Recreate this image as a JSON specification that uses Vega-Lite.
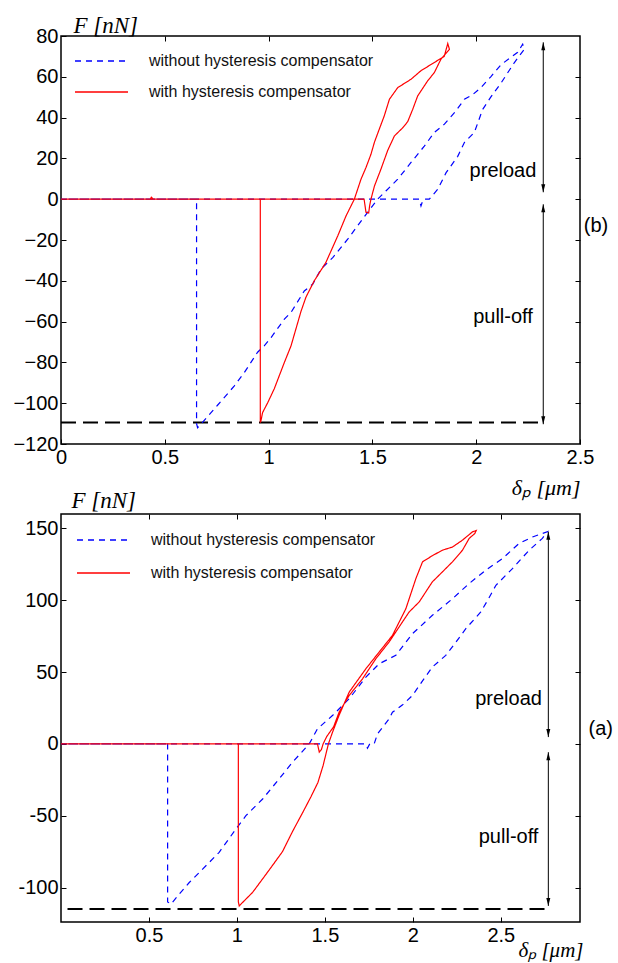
{
  "$schema": "https://vega.github.io/schema/vega-lite/v6.json",
  "background": "white",
  "padding": {"left": 12, "top": 13, "right": 5, "bottom": 5},
  "bounds": "flush",
  "spacing": 70,
  "datasets": {
    "topBlue": [
      {"i":0,"x":0,"y":0},{"i":1,"x":0.4,"y":0},{"i":2,"x":1.0,"y":0},{"i":3,"x":1.5,"y":0},{"i":4,"x":1.725,"y":0},
      {"i":5,"x":1.734,"y":-3.3},{"i":6,"x":1.745,"y":0},{"i":7,"x":1.774,"y":0},{"i":8,"x":1.815,"y":4.9},{"i":9,"x":1.855,"y":13},
      {"i":10,"x":1.911,"y":21},{"i":11,"x":1.943,"y":27.8},{"i":12,"x":1.991,"y":32.7},{"i":13,"x":2.031,"y":44},{"i":14,"x":2.07,"y":50},
      {"i":15,"x":2.12,"y":57},{"i":16,"x":2.184,"y":67},{"i":17,"x":2.232,"y":73.5},{"i":18,"x":2.224,"y":76},{"i":19,"x":2.2,"y":72},
      {"i":20,"x":2.16,"y":69},{"i":21,"x":2.12,"y":66},{"i":22,"x":2.07,"y":60},{"i":23,"x":2.023,"y":54.7},{"i":24,"x":1.98,"y":51},
      {"i":25,"x":1.943,"y":49},{"i":26,"x":1.9,"y":43},{"i":27,"x":1.847,"y":36.8},{"i":28,"x":1.798,"y":32.7},{"i":29,"x":1.75,"y":26},
      {"i":30,"x":1.686,"y":18},{"i":31,"x":1.622,"y":9.8},{"i":32,"x":1.565,"y":4},{"i":33,"x":1.525,"y":0},{"i":34,"x":1.48,"y":-6},
      {"i":35,"x":1.429,"y":-13},{"i":36,"x":1.381,"y":-19.6},{"i":37,"x":1.31,"y":-28.5},{"i":38,"x":1.252,"y":-34.3},{"i":39,"x":1.212,"y":-41.7},
      {"i":40,"x":1.172,"y":-45},{"i":41,"x":1.108,"y":-55.5},{"i":42,"x":1.076,"y":-58.8},{"i":43,"x":1.012,"y":-67.8},{"i":44,"x":0.979,"y":-71.9},
      {"i":45,"x":0.947,"y":-75},{"i":46,"x":0.883,"y":-85},{"i":47,"x":0.835,"y":-91.5},{"i":48,"x":0.754,"y":-101},{"i":49,"x":0.674,"y":-110.3},
      {"i":50,"x":0.658,"y":-112},{"i":51,"x":0.653,"y":-110},{"i":52,"x":0.653,"y":0},{"i":53,"x":0.3,"y":0},{"i":54,"x":0,"y":0}
    ],
    "topRed": [
      {"i":0,"x":0,"y":0},{"i":1,"x":0.43,"y":0},{"i":2,"x":0.435,"y":1},{"i":3,"x":0.445,"y":0},{"i":4,"x":1.0,"y":0},
      {"i":5,"x":1.46,"y":0},{"i":6,"x":1.469,"y":-6.4},{"i":7,"x":1.482,"y":-6.8},{"i":8,"x":1.487,"y":-3},{"i":9,"x":1.493,"y":0},
      {"i":10,"x":1.51,"y":6.5},{"i":11,"x":1.541,"y":14.7},{"i":12,"x":1.574,"y":24},{"i":13,"x":1.606,"y":31},{"i":14,"x":1.646,"y":35},
      {"i":15,"x":1.67,"y":38},{"i":16,"x":1.694,"y":44},{"i":17,"x":1.718,"y":50.6},{"i":18,"x":1.766,"y":58},{"i":19,"x":1.798,"y":62},
      {"i":20,"x":1.83,"y":68.6},{"i":21,"x":1.871,"y":73.5},{"i":22,"x":1.863,"y":76.3},{"i":23,"x":1.846,"y":70},{"i":24,"x":1.798,"y":67},
      {"i":25,"x":1.734,"y":63},{"i":26,"x":1.686,"y":58.8},{"i":27,"x":1.622,"y":54.7},{"i":28,"x":1.582,"y":49},{"i":29,"x":1.557,"y":40.8},
      {"i":30,"x":1.533,"y":34.3},{"i":31,"x":1.51,"y":28},{"i":32,"x":1.493,"y":22},{"i":33,"x":1.469,"y":15.5},{"i":34,"x":1.445,"y":9.8},
      {"i":35,"x":1.413,"y":0},{"i":36,"x":1.373,"y":-8.2},{"i":37,"x":1.333,"y":-18},{"i":38,"x":1.276,"y":-31},{"i":39,"x":1.22,"y":-40},
      {"i":40,"x":1.18,"y":-48},{"i":41,"x":1.156,"y":-55},{"i":42,"x":1.108,"y":-71.9},{"i":43,"x":1.076,"y":-80},{"i":44,"x":1.027,"y":-93},
      {"i":45,"x":0.996,"y":-99.7},{"i":46,"x":0.971,"y":-104.6},{"i":47,"x":0.963,"y":-108.7},{"i":48,"x":0.96,"y":-109.5},{"i":49,"x":0.96,"y":0},
      {"i":50,"x":0.5,"y":0},{"i":51,"x":0,"y":0}
    ],
    "botBlue": [
      {"i":0,"x":0,"y":0},{"i":1,"x":0.5,"y":0},{"i":2,"x":1.2,"y":0},{"i":3,"x":1.73,"y":0},{"i":4,"x":1.742,"y":-3},
      {"i":5,"x":1.755,"y":0},{"i":6,"x":1.78,"y":0},{"i":7,"x":1.799,"y":7},{"i":8,"x":1.865,"y":17.4},{"i":9,"x":1.884,"y":22},
      {"i":10,"x":1.94,"y":27},{"i":11,"x":1.998,"y":33.7},{"i":12,"x":2.05,"y":43},{"i":13,"x":2.111,"y":53.5},{"i":14,"x":2.187,"y":61.6},
      {"i":15,"x":2.24,"y":70},{"i":16,"x":2.301,"y":80.2},{"i":17,"x":2.386,"y":91.8},{"i":18,"x":2.43,"y":101},{"i":19,"x":2.472,"y":110.4},
      {"i":20,"x":2.566,"y":122},{"i":21,"x":2.661,"y":134.8},{"i":22,"x":2.736,"y":143},{"i":23,"x":2.765,"y":147.7},{"i":24,"x":2.68,"y":144},
      {"i":25,"x":2.604,"y":139.5},{"i":26,"x":2.509,"y":129},{"i":27,"x":2.415,"y":121},{"i":28,"x":2.32,"y":111.6},{"i":29,"x":2.225,"y":101},
      {"i":30,"x":2.111,"y":89.5},{"i":31,"x":1.998,"y":76.7},{"i":32,"x":1.903,"y":61.6},{"i":33,"x":1.809,"y":55.8},{"i":34,"x":1.733,"y":46.5},
      {"i":35,"x":1.638,"y":31.4},{"i":36,"x":1.543,"y":19.7},{"i":37,"x":1.458,"y":10.5},{"i":38,"x":1.411,"y":0},{"i":39,"x":1.316,"y":-12.8},
      {"i":40,"x":1.24,"y":-24.4},{"i":41,"x":1.146,"y":-38.4},{"i":42,"x":1.051,"y":-50},{"i":43,"x":0.994,"y":-59.3},{"i":44,"x":0.899,"y":-75.5},
      {"i":45,"x":0.805,"y":-87.2},{"i":46,"x":0.729,"y":-96.5},{"i":47,"x":0.672,"y":-104.6},{"i":48,"x":0.625,"y":-111.6},{"i":49,"x":0.606,"y":-110},
      {"i":50,"x":0.606,"y":0},{"i":51,"x":0.3,"y":0},{"i":52,"x":0,"y":0}
    ],
    "botRed": [
      {"i":0,"x":0,"y":0},{"i":1,"x":0.5,"y":0},{"i":2,"x":1.2,"y":0},{"i":3,"x":1.458,"y":0},{"i":4,"x":1.468,"y":-5.8},
      {"i":5,"x":1.48,"y":-4},{"i":6,"x":1.49,"y":0},{"i":7,"x":1.51,"y":5},{"i":8,"x":1.55,"y":12},{"i":9,"x":1.581,"y":22.1},
      {"i":10,"x":1.638,"y":33.7},{"i":11,"x":1.714,"y":45.3},{"i":12,"x":1.79,"y":59.3},{"i":13,"x":1.865,"y":70.9},{"i":14,"x":1.941,"y":84.9},
      {"i":15,"x":1.979,"y":91.8},{"i":16,"x":2.036,"y":98.8},{"i":17,"x":2.111,"y":112.8},{"i":18,"x":2.168,"y":119.7},{"i":19,"x":2.225,"y":126.7},
      {"i":20,"x":2.282,"y":134.8},{"i":21,"x":2.32,"y":143},{"i":22,"x":2.352,"y":146.4},{"i":23,"x":2.36,"y":148.5},{"i":24,"x":2.339,"y":147.6},
      {"i":25,"x":2.282,"y":141.8},{"i":26,"x":2.225,"y":137},{"i":27,"x":2.168,"y":134.8},{"i":28,"x":2.111,"y":131},{"i":29,"x":2.055,"y":126.7},
      {"i":30,"x":2.017,"y":115},{"i":31,"x":1.96,"y":94},{"i":32,"x":1.884,"y":75.5},{"i":33,"x":1.809,"y":64},{"i":34,"x":1.733,"y":52.3},
      {"i":35,"x":1.638,"y":36},{"i":36,"x":1.581,"y":20},{"i":37,"x":1.543,"y":8},{"i":38,"x":1.52,"y":0},{"i":39,"x":1.49,"y":-15},
      {"i":40,"x":1.46,"y":-27},{"i":41,"x":1.42,"y":-37},{"i":42,"x":1.373,"y":-48},{"i":43,"x":1.316,"y":-61},{"i":44,"x":1.259,"y":-75},
      {"i":45,"x":1.2,"y":-85},{"i":46,"x":1.146,"y":-94},{"i":47,"x":1.089,"y":-103.4},{"i":48,"x":1.032,"y":-110.4},{"i":49,"x":1.013,"y":-112.8},
      {"i":50,"x":1.008,"y":-110},{"i":51,"x":1.008,"y":0},{"i":52,"x":0.5,"y":0},{"i":53,"x":0,"y":0}
    ]
  },
  "vconcat": [
    {
      "width": 519,
      "height": 408,
      "resolve": {"axis": {"x": "independent", "y": "independent"}},
      "layer": [
        {
          "data": {"values": [{"x": 0, "y": 0}]},
          "mark": {"type": "point", "opacity": 0},
          "encoding": {
            "x": {"field": "x", "type": "quantitative", "scale": {"domain": [0, 2.5], "nice": false, "zero": false},
                  "axis": {"orient": "top", "values": [0.5, 1, 1.5, 2], "labels": false, "grid": false, "title": null}},
            "y": {"field": "y", "type": "quantitative", "scale": {"domain": [-120, 80], "nice": false, "zero": false},
                  "axis": {"orient": "right", "values": [-100, -80, -60, -40, -20, 0, 20, 40, 60], "labels": false, "grid": false, "title": null}}
          }
        },
        {
          "data": {"values": [{"x": 0, "x2": 2.323, "y": -109.5}]},
          "mark": {"type": "rule", "color": "black", "strokeWidth": 2, "strokeDash": [15, 7]},
          "encoding": {
            "x": {"field": "x", "type": "quantitative", "scale": {"domain": [0, 2.5], "nice": false, "zero": false}, "axis": null},
            "x2": {"field": "x2"},
            "y": {"field": "y", "type": "quantitative", "scale": {"domain": [-120, 80], "nice": false, "zero": false}, "axis": null}
          }
        },
        {
          "data": {"name": "topBlue"},
          "mark": {"type": "line", "strokeWidth": 1.2},
          "encoding": {
            "x": {"field": "x", "type": "quantitative", "scale": {"domain": [0, 2.5], "nice": false, "zero": false},
                  "axis": {"values": [0, 0.5, 1, 1.5, 2, 2.5], "format": "~g", "title": "δₚ [μm]",
                           "titleFont": "Liberation Serif", "titleFontStyle": "italic", "titleFontWeight": "normal", "titleFontSize": 22,
                           "titleAnchor": "end", "titleAlign": "right", "titleBaseline": "alphabetic", "titleX": 519, "titleY": 50}},
            "y": {"field": "y", "type": "quantitative", "scale": {"domain": [-120, 80], "nice": false, "zero": false},
                  "axis": {"values": [-120, -100, -80, -60, -40, -20, 0, 20, 40, 60, 80], "title": "F [nN]",
                           "titleFont": "Liberation Serif", "titleFontStyle": "italic", "titleFontWeight": "normal", "titleFontSize": 23,
                           "titleAngle": 0, "titleAlign": "left", "titleBaseline": "alphabetic", "titleX": 12, "titleY": -4}},
            "order": {"field": "i", "type": "quantitative"},
            "color": {"datum": "without hysteresis compensator", "type": "nominal",
                      "scale": {"domain": ["without hysteresis compensator", "with hysteresis compensator"], "range": ["#0000ff", "#ff0000"]},
                      "legend": {"title": null, "orient": "none", "legendX": 13, "legendY": 15, "rowPadding": 11}},
            "strokeDash": {"datum": "without hysteresis compensator", "type": "nominal",
                      "scale": {"domain": ["without hysteresis compensator", "with hysteresis compensator"], "range": [[6, 5], [1, 0]]},
                      "legend": {"title": null, "orient": "none", "legendX": 13, "legendY": 15, "rowPadding": 11}}
          }
        },
        {
          "data": {"name": "topRed"},
          "mark": {"type": "line", "strokeWidth": 1.2},
          "encoding": {
            "x": {"field": "x", "type": "quantitative", "scale": {"domain": [0, 2.5], "nice": false, "zero": false}, "axis": null},
            "y": {"field": "y", "type": "quantitative", "scale": {"domain": [-120, 80], "nice": false, "zero": false}, "axis": null},
            "order": {"field": "i", "type": "quantitative"},
            "color": {"datum": "with hysteresis compensator", "type": "nominal"},
            "strokeDash": {"datum": "with hysteresis compensator", "type": "nominal"}
          }
        },
        {
          "data": {"values": [{"x": 2.323, "y": 76.9, "y2": 3.4}, {"x": 2.323, "y": -2.5, "y2": -110.3}]},
          "mark": {"type": "rule", "color": "black", "strokeWidth": 1},
          "encoding": {
            "x": {"field": "x", "type": "quantitative", "scale": {"domain": [0, 2.5], "nice": false, "zero": false}, "axis": null},
            "y": {"field": "y", "type": "quantitative", "scale": {"domain": [-120, 80], "nice": false, "zero": false}, "axis": null},
            "y2": {"field": "y2"}
          }
        },
        {
          "data": {"values": [{"x": 2.323, "y": 76.9, "d": "up"}, {"x": 2.323, "y": 3.4, "d": "down"}, {"x": 2.323, "y": -2.5, "d": "up"}, {"x": 2.323, "y": -110.3, "d": "down"}]},
          "mark": {"type": "point", "filled": true, "color": "black", "opacity": 1, "size": 100},
          "encoding": {
            "x": {"field": "x", "type": "quantitative", "scale": {"domain": [0, 2.5], "nice": false, "zero": false}, "axis": null},
            "y": {"field": "y", "type": "quantitative", "scale": {"domain": [-120, 80], "nice": false, "zero": false}, "axis": null},
            "shape": {"field": "d", "type": "nominal", "scale": {"domain": ["up", "down"], "range": ["M0,0L-0.4,1.6L0.4,1.6Z", "M0,0L-0.4,-1.6L0.4,-1.6Z"]}, "legend": null}
          }
        },
        {
          "data": {"values": [{"x": 2.129, "y": 13.7, "t": "preload"}, {"x": 2.129, "y": -57.8, "t": "pull-off"}, {"x": 2.577, "y": -13.2, "t": "(b)"}]},
          "mark": {"type": "text", "font": "Liberation Sans", "fontSize": 20, "color": "black", "align": "center", "baseline": "middle"},
          "encoding": {
            "x": {"field": "x", "type": "quantitative", "scale": {"domain": [0, 2.5], "nice": false, "zero": false}, "axis": null},
            "y": {"field": "y", "type": "quantitative", "scale": {"domain": [-120, 80], "nice": false, "zero": false}, "axis": null},
            "text": {"field": "t"}
          }
        }
      ]
    },
    {
      "width": 519,
      "height": 408,
      "resolve": {"axis": {"x": "independent", "y": "independent"}},
      "layer": [
        {
          "data": {"values": [{"x": 0.5, "y": 0}]},
          "mark": {"type": "point", "opacity": 0},
          "encoding": {
            "x": {"field": "x", "type": "quantitative", "scale": {"domain": [0, 2.95], "nice": false, "zero": false},
                  "axis": {"orient": "top", "values": [0.5, 1, 1.5, 2, 2.5], "labels": false, "grid": false, "title": null}},
            "y": {"field": "y", "type": "quantitative", "scale": {"domain": [-124, 160], "nice": false, "zero": false},
                  "axis": {"orient": "right", "values": [-100, -50, 0, 50, 100, 150], "labels": false, "grid": false, "title": null}}
          }
        },
        {
          "data": {"values": [{"x": 0.037, "x2": 2.77, "y": -115}]},
          "mark": {"type": "rule", "color": "black", "strokeWidth": 2, "strokeDash": [15, 7]},
          "encoding": {
            "x": {"field": "x", "type": "quantitative", "scale": {"domain": [0, 2.95], "nice": false, "zero": false}, "axis": null},
            "x2": {"field": "x2"},
            "y": {"field": "y", "type": "quantitative", "scale": {"domain": [-124, 160], "nice": false, "zero": false}, "axis": null}
          }
        },
        {
          "data": {"name": "botBlue"},
          "mark": {"type": "line", "strokeWidth": 1.2},
          "encoding": {
            "x": {"field": "x", "type": "quantitative", "scale": {"domain": [0, 2.95], "nice": false, "zero": false},
                  "axis": {"values": [0.5, 1, 1.5, 2, 2.5], "format": "~g", "title": "δₚ [μm]",
                           "titleFont": "Liberation Serif", "titleFontStyle": "italic", "titleFontWeight": "normal", "titleFontSize": 21,
                           "titleAnchor": "end", "titleAlign": "right", "titleBaseline": "alphabetic", "titleX": 522, "titleY": 34}},
            "y": {"field": "y", "type": "quantitative", "scale": {"domain": [-124, 160], "nice": false, "zero": false},
                  "axis": {"values": [-100, -50, 0, 50, 100, 150], "title": "F [nN]", "labelExpr": "replace(datum.label, '−', '-')",
                           "titleFont": "Liberation Serif", "titleFontStyle": "italic", "titleFontWeight": "normal", "titleFontSize": 23,
                           "titleAngle": 0, "titleAlign": "left", "titleBaseline": "alphabetic", "titleX": 10, "titleY": -7}},
            "order": {"field": "i", "type": "quantitative"},
            "color": {"datum": "without hysteresis compensator", "type": "nominal",
                      "scale": {"domain": ["without hysteresis compensator", "with hysteresis compensator"], "range": ["#0000ff", "#ff0000"]},
                      "legend": {"title": null, "orient": "none", "legendX": 15, "legendY": 16, "rowPadding": 13}},
            "strokeDash": {"datum": "without hysteresis compensator", "type": "nominal",
                      "scale": {"domain": ["without hysteresis compensator", "with hysteresis compensator"], "range": [[6, 5], [1, 0]]},
                      "legend": {"title": null, "orient": "none", "legendX": 15, "legendY": 16, "rowPadding": 13}}
          }
        },
        {
          "data": {"name": "botRed"},
          "mark": {"type": "line", "strokeWidth": 1.2},
          "encoding": {
            "x": {"field": "x", "type": "quantitative", "scale": {"domain": [0, 2.95], "nice": false, "zero": false}, "axis": null},
            "y": {"field": "y", "type": "quantitative", "scale": {"domain": [-124, 160], "nice": false, "zero": false}, "axis": null},
            "order": {"field": "i", "type": "quantitative"},
            "color": {"datum": "with hysteresis compensator", "type": "nominal"},
            "strokeDash": {"datum": "with hysteresis compensator", "type": "nominal"}
          }
        },
        {
          "data": {"values": [{"x": 2.77, "y": 147.7, "y2": 4.7}, {"x": 2.77, "y": -5.8, "y2": -112.8}]},
          "mark": {"type": "rule", "color": "black", "strokeWidth": 1},
          "encoding": {
            "x": {"field": "x", "type": "quantitative", "scale": {"domain": [0, 2.95], "nice": false, "zero": false}, "axis": null},
            "y": {"field": "y", "type": "quantitative", "scale": {"domain": [-124, 160], "nice": false, "zero": false}, "axis": null},
            "y2": {"field": "y2"}
          }
        },
        {
          "data": {"values": [{"x": 2.77, "y": 147.7, "d": "up"}, {"x": 2.77, "y": 4.7, "d": "down"}, {"x": 2.77, "y": -5.8, "d": "up"}, {"x": 2.77, "y": -112.8, "d": "down"}]},
          "mark": {"type": "point", "filled": true, "color": "black", "opacity": 1, "size": 100},
          "encoding": {
            "x": {"field": "x", "type": "quantitative", "scale": {"domain": [0, 2.95], "nice": false, "zero": false}, "axis": null},
            "y": {"field": "y", "type": "quantitative", "scale": {"domain": [-124, 160], "nice": false, "zero": false}, "axis": null},
            "shape": {"field": "d", "type": "nominal", "scale": {"domain": ["up", "down"], "range": ["M0,0L-0.4,1.6L0.4,1.6Z", "M0,0L-0.4,-1.6L0.4,-1.6Z"]}, "legend": null}
          }
        },
        {
          "data": {"values": [{"x": 2.544, "y": 31.4, "t": "preload"}, {"x": 2.544, "y": -65, "t": "pull-off"}, {"x": 3.068, "y": 10.5, "t": "(a)"}]},
          "mark": {"type": "text", "font": "Liberation Sans", "fontSize": 20, "color": "black", "align": "center", "baseline": "middle"},
          "encoding": {
            "x": {"field": "x", "type": "quantitative", "scale": {"domain": [0, 2.95], "nice": false, "zero": false}, "axis": null},
            "y": {"field": "y", "type": "quantitative", "scale": {"domain": [-124, 160], "nice": false, "zero": false}, "axis": null},
            "text": {"field": "t"}
          }
        }
      ]
    }
  ],
  "resolve": {"scale": {"x": "independent", "y": "independent", "color": "independent", "strokeDash": "independent", "shape": "independent"}},
  "config": {
    "view": {"stroke": "black", "strokeWidth": 1.5},
    "axis": {"domain": false, "grid": true, "gridColor": "#777777", "gridDash": [1, 3], "gridWidth": 1, "labelFlush": false,
             "tickColor": "black", "tickSize": -5, "labelFont": "Liberation Sans", "labelFontSize": 20, "labelColor": "black",
             "labelPadding": 8, "titleColor": "black"},
    "legend": {"symbolType": "stroke", "symbolSize": 2809, "symbolStrokeWidth": 1.5, "labelFont": "Liberation Sans",
               "labelFontSize": 16, "labelColor": "#111111", "labelOffset": 20, "clipHeight": 20, "padding": 0, "labelLimit": 400}
  }
}
